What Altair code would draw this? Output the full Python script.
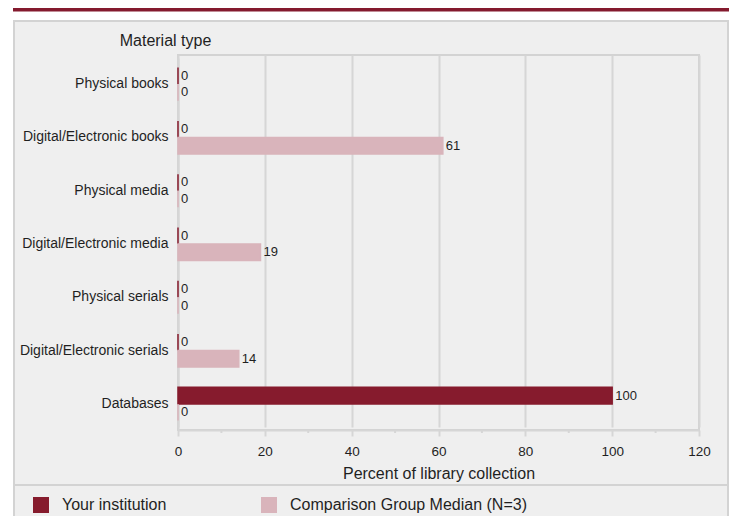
import altair as alt
import pandas as pd

categories = ["Physical books", "Digital/Electronic books", "Physical media",
              "Digital/Electronic media", "Physical serials",
              "Digital/Electronic serials", "Databases"]
institution = [0, 0, 0, 0, 0, 0, 100]
comparison = [0, 61, 0, 19, 0, 14, 0]
series_names = ["Your institution", "Comparison Group Median (N=3)"]
series_colors = ["#861b2d", "#d9b4bb"]
x_ticks = [0, 20, 40, 60, 80, 100, 120]
minor_ticks = [10, 30, 50, 70, 90, 110]

rows = []
for c, a, b in zip(categories, institution, comparison):
    rows.append({"cat": c, "series": series_names[0], "value": a})
    rows.append({"cat": c, "series": series_names[1], "value": b})
df = pd.DataFrame(rows)
minor_df = pd.DataFrame({"t": minor_ticks})
one = pd.DataFrame({"k": [0]})

FONT = "Liberation Sans"
TXT = "#1f1f1f"
GRID = "#d6d6d6"
BORDER = "#d3d3d3"
W, H = 521, 375

color_scale = alt.Scale(domain=series_names, range=series_colors)
x_scale = alt.Scale(domain=[0, 120], nice=False)
y_scale = alt.Scale(domain=categories, paddingInner=0.38, paddingOuter=0.18,
                    range=[3, H])

x_enc = alt.X("value:Q", scale=x_scale,
              axis=alt.Axis(values=x_ticks, orient="bottom",
                            title="Percent of library collection",
                            grid=True, gridColor=GRID, gridWidth=2,
                            domainColor=GRID, domainWidth=2,
                            tickColor=GRID, tickWidth=2, tickSize=6,
                            labelFlush=False,
                            labelFontSize=13.5, labelFont=FONT, labelColor=TXT,
                            labelPadding=8, titleFont=FONT, titleFontSize=16,
                            titleFontWeight="normal", titleColor=TXT,
                            titlePadding=8))
y_enc = alt.Y("cat:N", scale=y_scale, sort=categories,
              axis=alt.Axis(title="Material type", titleAngle=0,
                            titleAlign="center", titleBaseline="middle",
                            titleX=-13, titleY=-15, titleFont=FONT,
                            titleFontSize=16, titleFontWeight="normal",
                            titleColor=TXT, ticks=False, grid=False,
                            domainColor=GRID, domainWidth=2,
                            labelFont=FONT, labelFontSize=14, labelColor=TXT,
                            labelPadding=10, labelLimit=300))

bars = alt.Chart(df).mark_bar(strokeWidth=1.5).encode(
    x=x_enc,
    y=y_enc,
    yOffset=alt.YOffset("series:N", sort=series_names),
    color=alt.Color("series:N", scale=color_scale, sort=series_names,
                    legend=alt.Legend(title=None, orient="none",
                                      direction="horizontal",
                                      legendX=-145, legendY=442,
                                      symbolType="square", symbolSize=256,
                                      symbolStrokeWidth=0, labelFont=FONT,
                                      labelFontSize=16, labelColor=TXT,
                                      labelOffset=13, columnPadding=94,
                                      labelLimit=300)),
    stroke=alt.Stroke("series:N", scale=color_scale, legend=None),
)

labels = alt.Chart(df).mark_text(align="left", baseline="middle", dx=3,
                                 font=FONT, fontSize=13, color=TXT).encode(
    x=alt.X("value:Q", scale=x_scale),
    y=alt.Y("cat:N", scale=y_scale, sort=categories),
    yOffset=alt.YOffset("series:N", sort=series_names),
    text=alt.Text("value:Q"),
)

minor = alt.Chart(minor_df).mark_rule(color=GRID, strokeWidth=2).encode(
    x=alt.X("t:Q", scale=x_scale),
    y=alt.value(H), y2=alt.value(H + 3),
)

white = "#ffffff"
mask_top = alt.Chart(one).mark_rect(color=white).encode(
    x=alt.value(-170), x2=alt.value(570), y=alt.value(-50), y2=alt.value(-35))
mask_left = alt.Chart(one).mark_rect(color=white).encode(
    x=alt.value(-170), x2=alt.value(-165), y=alt.value(-50), y2=alt.value(470))
red_line = alt.Chart(one).mark_rule(color="#841a2e", strokeWidth=5).encode(
    x=alt.value(-165), x2=alt.value(570), y=alt.value(-46))
b_left = alt.Chart(one).mark_rule(color=BORDER, strokeWidth=2).encode(
    x=alt.value(-164), y=alt.value(-35), y2=alt.value(470))
b_right = alt.Chart(one).mark_rule(color=BORDER, strokeWidth=2).encode(
    x=alt.value(550), y=alt.value(-35), y2=alt.value(470))
b_top = alt.Chart(one).mark_rule(color=BORDER, strokeWidth=2).encode(
    x=alt.value(-165), x2=alt.value(551), y=alt.value(-34))
b_sep = alt.Chart(one).mark_rule(color=BORDER, strokeWidth=2).encode(
    x=alt.value(-165), x2=alt.value(551), y=alt.value(430))

chart = alt.layer(
    bars, labels, minor,
    mask_top, mask_left, red_line, b_left, b_right, b_top, b_sep,
).properties(
    width=W, height=H,
    autosize=alt.AutoSizeParams(type="none"),
    padding={"left": 170, "top": 47, "right": 30, "bottom": 86},
    background="#efefef",
).configure_view(stroke=BORDER, strokeWidth=2)

chart.save("out.html", embed_options={"renderer": "svg", "actions": False})
